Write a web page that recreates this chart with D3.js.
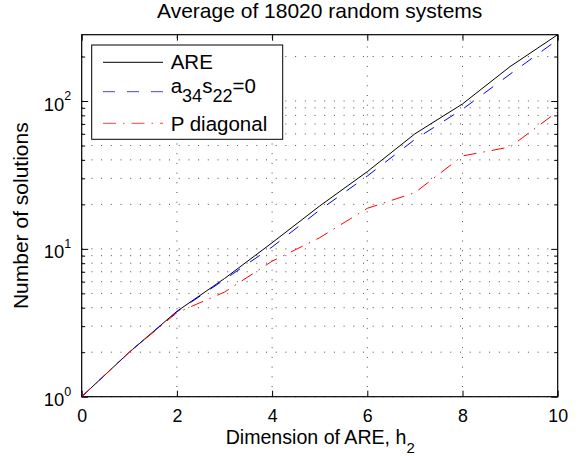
<!DOCTYPE html>
<html><head><meta charset="utf-8">
<script src="https://cdn.jsdelivr.net/npm/d3@7"></script>
<style>
html,body{margin:0;padding:0;background:#fff;}
svg{display:block;font-family:"Liberation Sans",Arial,Helvetica,sans-serif;}
</style></head>
<body>
<svg id="chart" width="585" height="456"></svg>
<script>
// ---- data ----
const dims = [0,1,2,3,4,5,6,7,8,9,10];
const areSolutions   = [1, 2, 3.78, 6.3, 11.0, 19.5, 33.3, 60, 95.6, 171, 281];
const a34s22Zero     = [1, 2, 3.75, 6.2, 10.3, 18.3, 31.1, 55, 88, 152, 260];
const pDiagonal      = [1, 2, 3.7, 5.1, 8.25, 11.9, 18.8, 24, 42.5, 48.9, 85];
const xTicks = [0,2,4,6,8,10];
const yMajorTicks = [1,10,100];
const yMinorTicks = [2,3,4,5,6,7,8,9,20,30,40,50,60,70,80,90,200];
const yExponents = ["0","1","2"];
const xDomain = [0,10];
const yDomain = [1,281];
const titleText = "Average of 18020 random systems";
const xLabelMain = "Dimension of ARE, h";
const xLabelSub = "2";
const yLabelText = "Number of solutions";

// ---- layout ----
const svg = d3.select("#chart");
const L = 81.7, R = 557.7, T = 34.7, B = 396.7;
const x = d3.scaleLinear().domain(xDomain).range([L, R]);
const y = d3.scaleLog().domain(yDomain).range([B, T]);

const g = svg.append("g");

// grid (dotted)
const gridColor = "#3a3a3a";
const gridDash = "1,8.7";
g.append("g").selectAll("line").data(yMajorTicks.concat(yMinorTicks)).join("line")
  .attr("x1", L).attr("x2", R)
  .attr("y1", d => y(d)).attr("y2", d => y(d))
  .attr("stroke", gridColor).attr("stroke-width", 0.9).attr("stroke-dasharray", gridDash);
g.append("g").selectAll("line").data(xTicks.filter(d => d > xDomain[0] && d < xDomain[1])).join("line")
  .attr("x1", d => x(d)).attr("x2", d => x(d))
  .attr("y1", B).attr("y2", T)
  .attr("stroke", gridColor).attr("stroke-width", 0.9).attr("stroke-dasharray", gridDash);

// axes
const fontTick = 17.8;
const xAxisB = g.append("g").attr("transform", `translate(0,${B})`)
  .call(d3.axisBottom(x).tickValues(xTicks).tickSize(-6).tickSizeOuter(0).tickPadding(12.8).tickFormat(d3.format("d")));
const xAxisT = g.append("g").attr("transform", `translate(0,${T})`)
  .call(d3.axisTop(x).tickValues(xTicks).tickSize(-6).tickSizeOuter(0).tickFormat(""));
const yAxisL = g.append("g").attr("transform", `translate(${L},0)`)
  .call(d3.axisLeft(y).tickValues(yMajorTicks).tickSize(-6.5).tickSizeOuter(0).tickFormat(""));
const yAxisR = g.append("g").attr("transform", `translate(${R},0)`)
  .call(d3.axisRight(y).tickValues(yMajorTicks).tickSize(-6.5).tickSizeOuter(0).tickFormat(""));
const yMinL = g.append("g").attr("transform", `translate(${L},0)`)
  .call(d3.axisLeft(y).tickValues(yMinorTicks).tickSize(-3.5).tickSizeOuter(0).tickFormat(""));
const yMinR = g.append("g").attr("transform", `translate(${R},0)`)
  .call(d3.axisRight(y).tickValues(yMinorTicks).tickSize(-3.5).tickSizeOuter(0).tickFormat(""));
[xAxisB, xAxisT, yAxisL, yAxisR, yMinL, yMinR].forEach(a => {
  a.select(".domain").remove();
  a.selectAll(".tick line").attr("stroke", "#000").attr("stroke-width", 1);
});
xAxisB.selectAll(".tick text").attr("font-size", fontTick).attr("fill", "#000")
  .attr("font-family", "Liberation Sans, Arial, sans-serif");

// y tick labels 10^n
yAxisL.selectAll(".tick").each(function(d, i) {
  const t = d3.select(this).select("text");
  t.attr("x", null).attr("dy", null).text(null)
   .attr("x", -10.5).attr("y", 9).attr("text-anchor", "end")
   .attr("font-size", 18.4).attr("fill", "#000")
   .attr("font-family", "Liberation Sans, Arial, sans-serif");
  t.append("tspan").text("10");
  t.append("tspan").attr("dy", -10.5).attr("font-size", 12.5).text(yExponents[i]);
});

// box
g.append("rect").attr("x", L).attr("y", T).attr("width", R - L).attr("height", B - T)
  .attr("fill", "none").attr("stroke", "#000").attr("stroke-width", 1.2);

// series
const line = d3.line().x((d, i) => x(dims[i])).y(d => y(d));
const series = [
  {name: "ARE", values: areSolutions, color: "#000", dash: null},
  {name: "a34s22", values: a34s22Zero, color: "#0000ff", dash: "12,12"},
  {name: "P diagonal", values: pDiagonal, color: "#ff0000", dash: "13,7,1.5,7"}
];
const clip = svg.append("clipPath").attr("id", "clip").append("rect")
  .attr("x", L).attr("y", T - 1).attr("width", R - L + 1).attr("height", B - T + 1);
const lg = g.append("g").attr("clip-path", "url(#clip)");
series.forEach(s => {
  lg.append("path").datum(s.values).attr("d", line)
    .attr("fill", "none").attr("stroke", s.color).attr("stroke-width", 1)
    .attr("stroke-dasharray", s.dash);
});

// legend
const leg = g.append("g");
leg.append("rect").attr("x", 91.7).attr("y", 45).attr("width", 191).attr("height", 94.3)
  .attr("fill", "#fff").attr("stroke", "#000").attr("stroke-width", 1);
const legRows = [62.3, 91.7, 123.3];
series.forEach((s, i) => {
  leg.append("line").attr("x1", 103).attr("x2", 163).attr("y1", legRows[i]).attr("y2", legRows[i])
    .attr("stroke", s.color).attr("stroke-width", 1).attr("stroke-dasharray", s.dash)
    .attr("stroke-opacity", i === 0 ? 1 : 0.75);
});
const legFont = 20.5;
leg.append("text").attr("x", 170.7).attr("y", 69.3).attr("font-size", legFont).text("ARE");
const t2 = leg.append("text").attr("x", 170.7).attr("y", 93.3).attr("font-size", legFont);
t2.append("tspan").text("a");
t2.append("tspan").attr("dy", 8.4).attr("font-size", 18).text("34");
t2.append("tspan").attr("dy", -8.4).text("s");
t2.append("tspan").attr("dy", 8.4).attr("font-size", 18).text("22");
t2.append("tspan").attr("dy", -8.4).text("=0");
leg.append("text").attr("x", 170.7).attr("y", 130.7).attr("font-size", legFont).text("P diagonal");

// title and labels
svg.append("text").attr("x", (L + R) / 2).attr("y", 18.3).attr("text-anchor", "middle")
  .attr("font-size", 21).text(titleText);
const xl = svg.append("text").attr("x", (L + R) / 2 + 0.5).attr("y", 443.5).attr("text-anchor", "middle")
  .attr("font-size", 19.6);
xl.append("tspan").text(xLabelMain);
xl.append("tspan").attr("dy", 9).attr("font-size", 15).text(xLabelSub);
svg.append("text").attr("transform", `translate(28.3,${(T + B) / 2}) rotate(-90)`)
  .attr("text-anchor", "middle").attr("font-size", 21).text(yLabelText);
</script>
</body></html>
